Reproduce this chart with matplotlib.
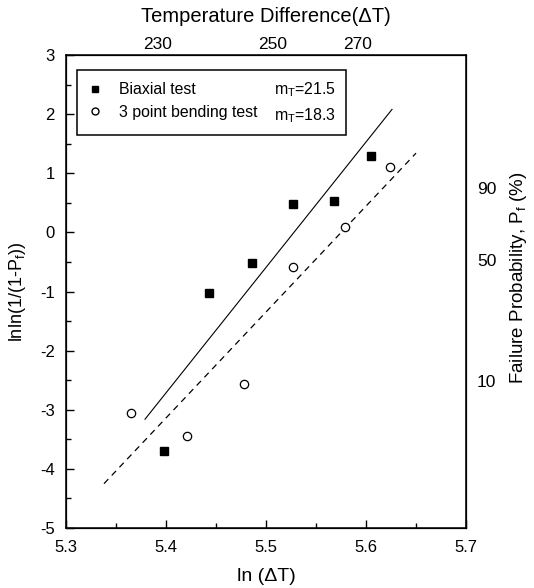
import matplotlib
matplotlib.use("Agg")
import matplotlib.pyplot as plt
from matplotlib.lines import Line2D
from matplotlib.ticker import MultipleLocator

plt.rcParams['font.family'] = ['Liberation Sans', 'DejaVu Sans']
plt.rcParams['axes.unicode_minus'] = False
plt.rcParams['mathtext.default'] = 'regular'

# Biaxial test (filled squares)
biax_x = [5.398, 5.443, 5.486, 5.527, 5.568, 5.605]
biax_y = [-3.69, -1.03, -0.52, 0.48, 0.53, 1.29]
# 3 point bending test (open circles)
bend_x = [5.365, 5.421, 5.478, 5.527, 5.579, 5.624]
bend_y = [-3.05, -3.44, -2.57, -0.58, 0.09, 1.11]
# fitted lines (endpoints)
biax_fit_x = [5.379, 5.626]
biax_fit_y = [-3.16, 2.08]
bend_fit_x = [5.338, 5.650]
bend_fit_y = [-4.25, 1.34]

x_ticks = [5.3, 5.4, 5.5, 5.6, 5.7]
x_ticklabels = ["5.3", "5.4", "5.5", "5.6", "5.7"]
y_ticks = [-5, -4, -3, -2, -1, 0, 1, 2, 3]
top_pos = [5.392, 5.507, 5.592]
top_labels = ["230", "250", "270"]
right_pos = [0.75, -0.46, -2.52]
right_labels = ["90", "50", "10"]

W, H = 534, 588
fig = plt.figure(figsize=(W / 100, H / 100), dpi=100)
ax = fig.add_axes([66 / W, 1 - 528 / H, 400 / W, 473 / H])

ax.plot(biax_fit_x, biax_fit_y, color='black', lw=0.8, ls='-')
ax.plot(bend_fit_x, bend_fit_y, color='black', lw=0.9, ls=(0, (5, 4)))
ax.plot(biax_x, biax_y, ls='none', marker='s', ms=6, mfc='black', mec='black')
ax.plot(bend_x, bend_y, ls='none', marker='o', ms=6, mfc='white', mec='black', mew=0.9)

ax.set_xlim(5.3, 5.7)
ax.set_ylim(-5, 3)
ax.set_xticks(x_ticks)
ax.set_xticklabels(x_ticklabels)
ax.set_yticks(y_ticks)
ax.xaxis.set_minor_locator(MultipleLocator(0.05))
ax.yaxis.set_minor_locator(MultipleLocator(0.5))
ax.tick_params(axis='both', which='major', direction='in', length=6, width=1, labelsize=12)
ax.tick_params(axis='both', which='minor', direction='in', length=3.5, width=1)
ax.tick_params(axis='x', which='major', pad=9)
ax.tick_params(axis='y', which='major', pad=8)
for s in ax.spines.values():
    s.set_linewidth(1.1)

ax.set_xlabel("ln (ΔT)", fontsize=14, labelpad=9)
ax.set_ylabel("lnln(1/(1-P$_{f}$))", fontsize=13, labelpad=9)

# top axis: temperature difference
axt = ax.twiny()
axt.set_xlim(ax.get_xlim())
axt.set_xticks(top_pos)
axt.set_xticklabels(top_labels)
axt.tick_params(axis='x', length=0, pad=2, labelsize=12.5)
axt.set_xlabel("Temperature Difference(ΔT)", fontsize=14.5, labelpad=11)

# right axis: failure probability
axr = ax.twinx()
axr.set_ylim(ax.get_ylim())
axr.set_yticks(right_pos)
axr.set_yticklabels(right_labels)
axr.tick_params(axis='y', length=0, pad=8, labelsize=12.5)
axr.set_ylabel("Failure Probability, P$_{f}$ (%)", fontsize=13.5)
axr.yaxis.set_label_coords(1.105, 0.53)

handles = [
    Line2D([], [], ls='none', marker='s', ms=5, mfc='black', mec='black'),
    Line2D([], [], ls='none', marker='o', ms=5, mfc='white', mec='black'),
    Line2D([], [], ls='none'),
    Line2D([], [], ls='none'),
]
labels = ["Biaxial test", "3 point bending test", "m$_{T}$=21.5", "m$_{T}$=18.3"]
leg = ax.legend(handles, labels, ncol=2, loc='upper left',
                bbox_to_anchor=(0.0275, 0.968), fontsize=11.4, frameon=True,
                fancybox=False, edgecolor='black', framealpha=1,
                handlelength=1.0, handletextpad=1.0, columnspacing=-0.95,
                borderpad=0.65, labelspacing=0.45, borderaxespad=0)
leg.get_frame().set_linewidth(1.1)

fig.savefig("out.png", dpi=100)
